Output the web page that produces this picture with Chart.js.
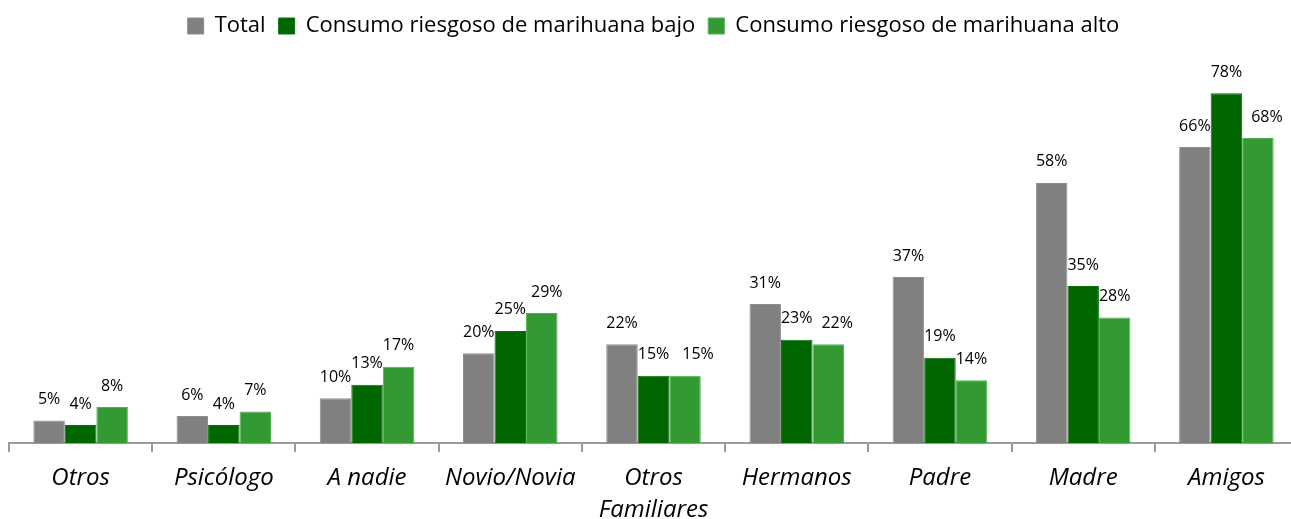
<!DOCTYPE html>
<html>
<head>
<meta charset="utf-8">
<script src="https://cdn.jsdelivr.net/npm/chart.js@4/dist/chart.umd.min.js"></script>
<style>
  html, body { margin: 0; padding: 0; background: #fff; overflow: hidden; }
  #wrap { width: 1298px; height: 519px; }
</style>
</head>
<body>
<div id="wrap"><canvas id="myChart"></canvas></div>
<script>
// datos
const categorias = ['Otros', 'Psicólogo', 'A nadie', 'Novio/Novia', ['Otros', 'Familiares'], 'Hermanos', 'Padre', 'Madre', 'Amigos'];
const total = [5, 6, 10, 20, 22, 31, 37, 58, 66];
const bajo = [4, 4, 13, 25, 15, 23, 19, 35, 78];
const alto = [8, 7, 17, 29, 15, 22, 14, 28, 68];
const yMax = 88.3;

// etiquetas encima de las barras (algunas movidas a la derecha para que no se pisen)
const moverEtiqueta = { '2-3': 5, '2-4': 13, '2-5': 9, '2-8': 9 };
const etiquetas = {
  id: 'etiquetas',
  afterDatasetsDraw(chart) {
    const ctx = chart.ctx;
    ctx.save();
    ctx.font = '16px "Open Sans"';
    ctx.fillStyle = '#000';
    ctx.textAlign = 'center';
    ctx.textBaseline = 'middle';
    chart.data.datasets.forEach((ds, i) => {
      chart.getDatasetMeta(i).data.forEach((bar, j) => {
        const dx = moverEtiqueta[i + '-' + j] || 0;
        ctx.fillText(ds.data[j] + '%', bar.x + dx, bar.y - 21);
      });
    });
    ctx.restore();
  }
};

const ctx = document.getElementById('myChart').getContext('2d');
const myChart = new Chart(ctx, {
  type: 'bar',
  data: {
    labels: categorias,
    datasets: [
      { label: 'Total', data: total, backgroundColor: '#808080', borderColor: '#8c8c8c', borderWidth: 1 },
      { label: 'Consumo riesgoso de marihuana bajo', data: bajo, backgroundColor: '#006600', borderColor: '#0b6e0b', borderWidth: 1 },
      { label: 'Consumo riesgoso de marihuana alto', data: alto, backgroundColor: '#339933', borderColor: '#4fb04f', borderWidth: 1 }
    ]
  },
  options: {
    responsive: true,
    maintainAspectRatio: false,
    animation: false,
    layout: { padding: { left: 9, right: 0, top: 2, bottom: 0 } },
    datasets: { bar: { categoryPercentage: 0.66, barPercentage: 1 } },
    plugins: {
      tooltip: { enabled: false },
      legend: {
        position: 'top',
        labels: {
          font: { family: '"Open Sans"', size: 22 },
          color: '#000',
          boxWidth: 16,
          boxHeight: 16,
          padding: 13
        }
      }
    },
    scales: {
      x: {
        grid: { display: true, drawOnChartArea: false, offset: true, color: '#9a9a9a', lineWidth: 2, tickLength: 9 },
        border: { color: '#9a9a9a', width: 2 },
        ticks: {
          color: '#000',
          font: { family: '"Open Sans"', size: 24, style: 'italic', lineHeight: 1.35 },
          padding: 10,
          maxRotation: 0,
          autoSkip: false
        },
        afterFit(scale) { scale.height = 76; }
      },
      y: {
        display: false,
        min: 0,
        max: yMax
      }
    }
  },
  plugins: [etiquetas]
});
</script>
</body>
</html>
